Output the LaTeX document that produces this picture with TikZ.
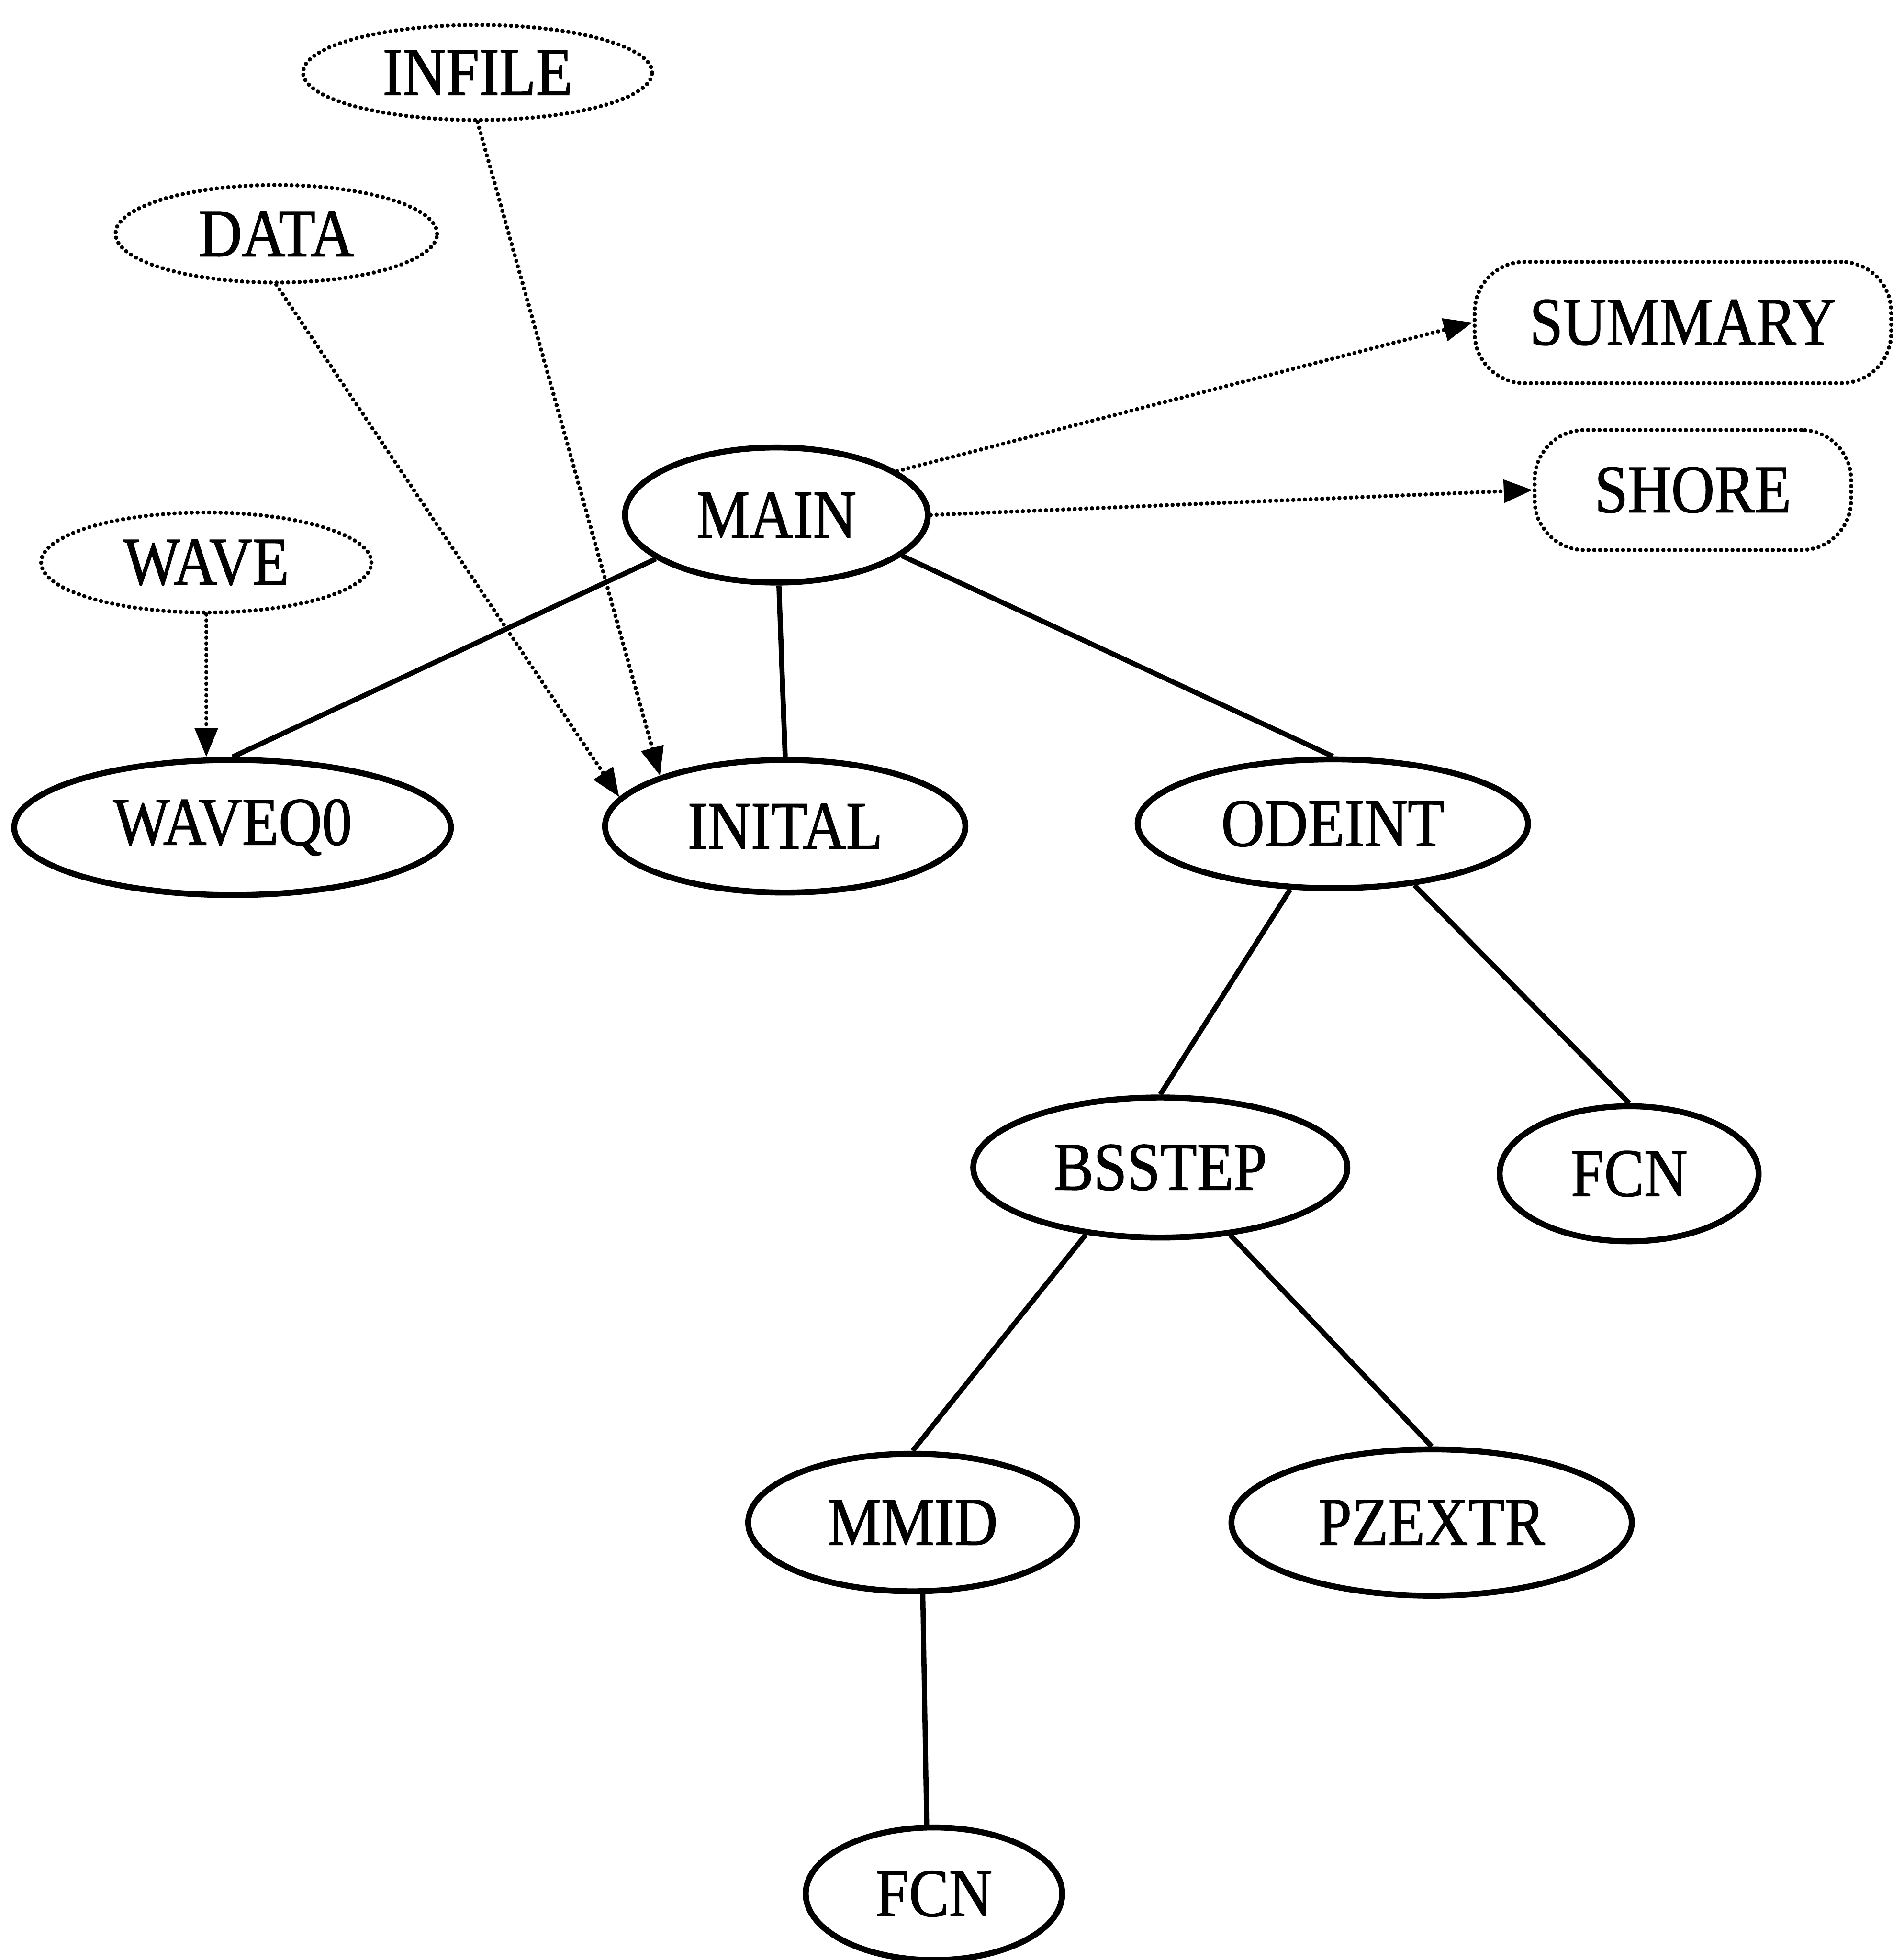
\documentclass[tikz,border=0pt]{standalone}
\usepackage{fontspec}
\usepackage{graphicx}
\setmainfont{Liberation Serif}[FakeBold=1.2]
\usetikzlibrary{shapes.geometric,arrows.meta}
\newcommand{\nm}[1]{\scalebox{0.88}[1]{#1}}
\begin{document}
\begin{tikzpicture}[x=0.01cm,y=-0.01cm,
  every node/.style={font=\fontsize{15.5}{16}\selectfont, inner sep=0pt},
  solidell/.style={ellipse, draw, line width=1.35pt},
  dotline/.style={line width=0.95pt, dash pattern=on 0.01pt off 1.3pt, line cap=round},
  dotell/.style={ellipse, draw, dotline},
  dotbox/.style={rectangle, draw, dotline, rounded corners=0.4cm},
  conn/.style={line width=1.15pt},
  arr/.style={dotline, -{Triangle[length=0.23cm,width=0.18cm]}}
]
\useasboundingbox (0,0) rectangle (1514,1568);

% dotted source ellipses
\node[dotell, minimum width=2.79cm, minimum height=0.76cm] (infile) at (382,58) {\nm{INFILE}};
\node[dotell, minimum width=2.57cm, minimum height=0.78cm] (data) at (221,187) {\nm{DATA}};
\node[dotell, minimum width=2.64cm, minimum height=0.80cm] (wave) at (165,450) {\nm{WAVE}};

% dotted rounded boxes
\node[dotbox, minimum width=3.33cm, minimum height=0.97cm] (summary) at (1346,258) {\nm{SUMMARY}};
\node[dotbox, minimum width=2.53cm, minimum height=0.96cm] (shore) at (1354,392) {\nm{SHORE}};

% solid ellipses
\node[solidell, minimum width=2.42cm, minimum height=1.08cm] (main) at (621,412) {\nm{MAIN}};
\node[solidell, minimum width=3.49cm, minimum height=1.08cm] (waveq0) at (186,662) {\nm{WAVEQ0}};
\node[solidell, minimum width=2.88cm, minimum height=1.06cm] (inital) at (628,661) {\nm{INITAL}};
\node[solidell, minimum width=3.12cm, minimum height=1.03cm] (odeint) at (1066,659) {\nm{ODEINT}};
\node[solidell, minimum width=2.99cm, minimum height=1.12cm] (bsstep) at (928,934) {\nm{BSSTEP}};
\node[solidell, minimum width=2.07cm, minimum height=1.08cm] (fcna) at (1303,939) {\nm{FCN}};
\node[solidell, minimum width=2.63cm, minimum height=1.10cm] (mmid) at (730,1218) {\nm{MMID}};
\node[solidell, minimum width=3.20cm, minimum height=1.17cm] (pzextr) at (1145,1218) {\nm{PZEXTR}};
\node[solidell, minimum width=2.05cm, minimum height=1.06cm] (fcnb) at (747,1515) {\nm{FCN}};

% solid tree edges
\draw[conn] (main.200) -- (waveq0.north);
\draw[conn] (main.-88) -- (inital.north);
\draw[conn] (main.-18) -- (odeint.north);
\draw[conn] (odeint.237) -- (bsstep.north);
\draw[conn] (odeint.-37) -- (fcna.north);
\draw[conn] (bsstep.222) -- (mmid.north);
\draw[conn] (bsstep.-44) -- (pzextr.north);
\draw[conn] (mmid.-82) -- (fcnb.96);

% dotted arrows
\draw[arr] (main.20) -- (summary.west);
\draw[arr] (main.east) -- (shore.west);
\draw[arr] (wave.south) -- (waveq0.north -| wave.south);
\draw[arr] (data.south) -- (inital.170);
\draw[arr] (infile.south) -- (inital.158);
\end{tikzpicture}
\end{document}
